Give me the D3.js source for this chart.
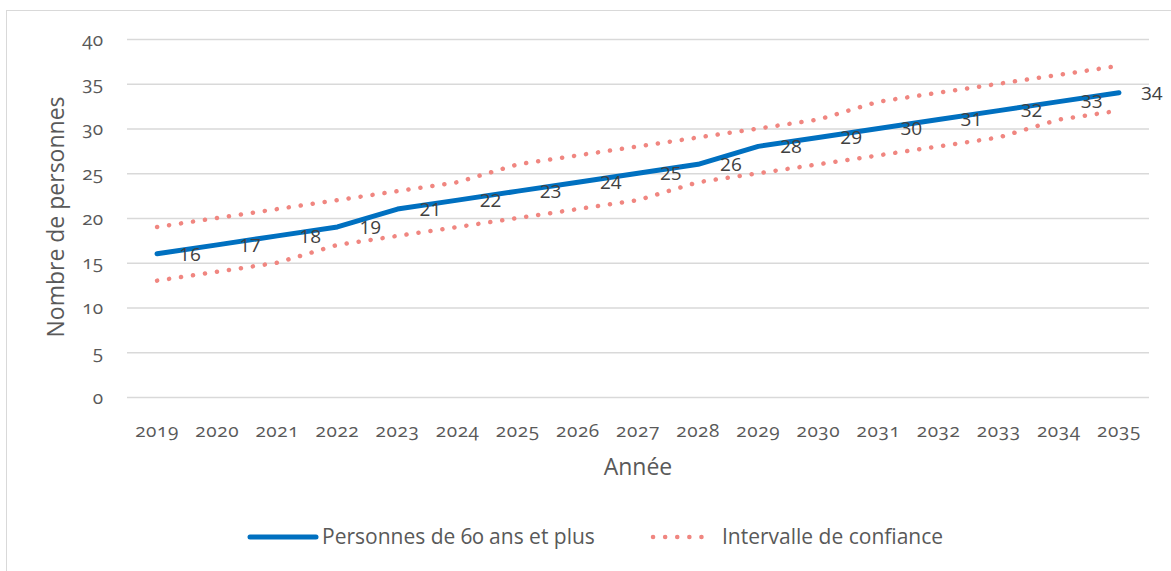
<!DOCTYPE html>
<html>
<head>
<meta charset="utf-8">
<script src="https://cdn.jsdelivr.net/npm/d3@7"></script>
<style>
  html, body { margin: 0; padding: 0; background: #fff; }
  svg { display: block; font-family: "Open Sans", sans-serif; }
  svg text { font-family: "Open Sans", sans-serif; }
  .onum text, text.onum { font-variant-numeric: oldstyle-nums; }
</style>
</head>
<body>
<svg id="chart"></svg>
<script>
"use strict";

// ==========================
// data
// ==========================
var years = ["2019", "2020", "2021", "2022", "2023", "2024", "2025", "2026", "2027",
  "2028", "2029", "2030", "2031", "2032", "2033", "2034", "2035"];
var personnes = [16, 17, 18, 19, 21, 22, 23, 24, 25, 26, 28, 29, 30, 31, 32, 33, 34];
var borneHaute = [19, 20, 21, 22, 23, 24, 26, 27, 28, 29, 30, 31, 33, 34, 35, 36, 37];
var borneBasse = [13, 14, 15, 17, 18, 19, 20, 21, 22, 24, 25, 26, 27, 28, 29, 31, 32];
var yTicks = [0, 5, 10, 15, 20, 25, 30, 35, 40];

var blue = "#0070c0",
    red = "#f08680",
    textColor = "#595959";

// ==========================
// chart
// ==========================
var width = 1171,
    height = 571;

var svg = d3.select("#chart").attr("width", width).attr("height", height);

svg.append("rect").attr("x", 6.5).attr("y", 10.5).attr("width", 1200).attr("height", 600)
  .attr("fill", "none").attr("stroke", "#d9d9d9");

var x = d3.scaleBand().domain(years).range([127, 1149]),
    y = d3.scaleLinear().domain([0, 40]).range([397, 39]);

var cx = function (d, i) { return x(years[i]) + x.bandwidth() / 2; };

// gridlines + y labels
var yAxis = svg.append("g").attr("class", "onum")
  .attr("transform", "translate(127,0)")
  .call(d3.axisLeft(y).tickValues(yTicks).tickSize(-(1149 - 127)).tickPadding(24));
yAxis.attr("font-family", null);
yAxis.select(".domain").remove();
yAxis.selectAll(".tick line").attr("stroke", "#d9d9d9").attr("stroke-width", 1.5);
yAxis.selectAll(".tick text").attr("fill", textColor).style("font-size", "19px");

// x labels
var xAxis = svg.append("g").attr("class", "onum")
  .attr("transform", "translate(0,397)")
  .call(d3.axisBottom(x).tickSize(0).tickPadding(27));
xAxis.attr("font-family", null);
xAxis.select(".domain").remove();
xAxis.selectAll(".tick text").attr("fill", textColor).style("font-size", "19px")
  .attr("letter-spacing", "0.6px");

// axis titles
svg.append("text").attr("x", (127 + 1149) / 2).attr("y", 475).attr("text-anchor", "middle")
  .attr("fill", textColor).style("font-size", "23px").text("Année");

svg.append("text").attr("transform", "translate(64,217) rotate(-90)").attr("text-anchor", "middle")
  .attr("fill", textColor).style("font-size", "23px").text("Nombre de personnes");

// lines
var line = function (values) {
  return d3.line().x(cx).y(function (d) { return y(d); })(values);
};

[borneHaute, borneBasse].forEach(function (s) {
  svg.append("path").attr("d", line(s)).attr("fill", "none").attr("stroke", red)
    .attr("stroke-width", 4.5).attr("stroke-linecap", "round").attr("stroke-dasharray", "0.1 12");
});

svg.append("path").attr("d", line(personnes)).attr("fill", "none").attr("stroke", blue)
  .attr("stroke-width", 5).attr("stroke-linecap", "round").attr("stroke-linejoin", "round");

// data labels
svg.append("g").selectAll("text").data(personnes).enter().append("text")
  .attr("x", function (d, i) { return cx(d, i) + 22; })
  .attr("y", function (d) { return y(d); })
  .attr("dy", "0.36em")
  .attr("fill", "#404040").style("font-size", "19px")
  .text(function (d) { return d; });

// ==========================
// legend
// ==========================
var legend = svg.append("g").attr("transform", "translate(0,537)");
legend.append("line").attr("x1", 250).attr("x2", 316).attr("stroke", blue)
  .attr("stroke-width", 5).attr("stroke-linecap", "round");
legend.append("text").attr("class", "onum").attr("x", 322).attr("dy", "0.35em")
  .attr("fill", textColor).style("font-size", "21px").text("Personnes de 60 ans et plus");
legend.append("line").attr("x1", 653).attr("x2", 713).attr("stroke", red)
  .attr("stroke-width", 4.5).attr("stroke-linecap", "round").attr("stroke-dasharray", "0.1 12");
legend.append("text").attr("x", 722).attr("dy", "0.35em")
  .attr("fill", textColor).style("font-size", "21px").text("Intervalle de confiance");
</script>
</body>
</html>
